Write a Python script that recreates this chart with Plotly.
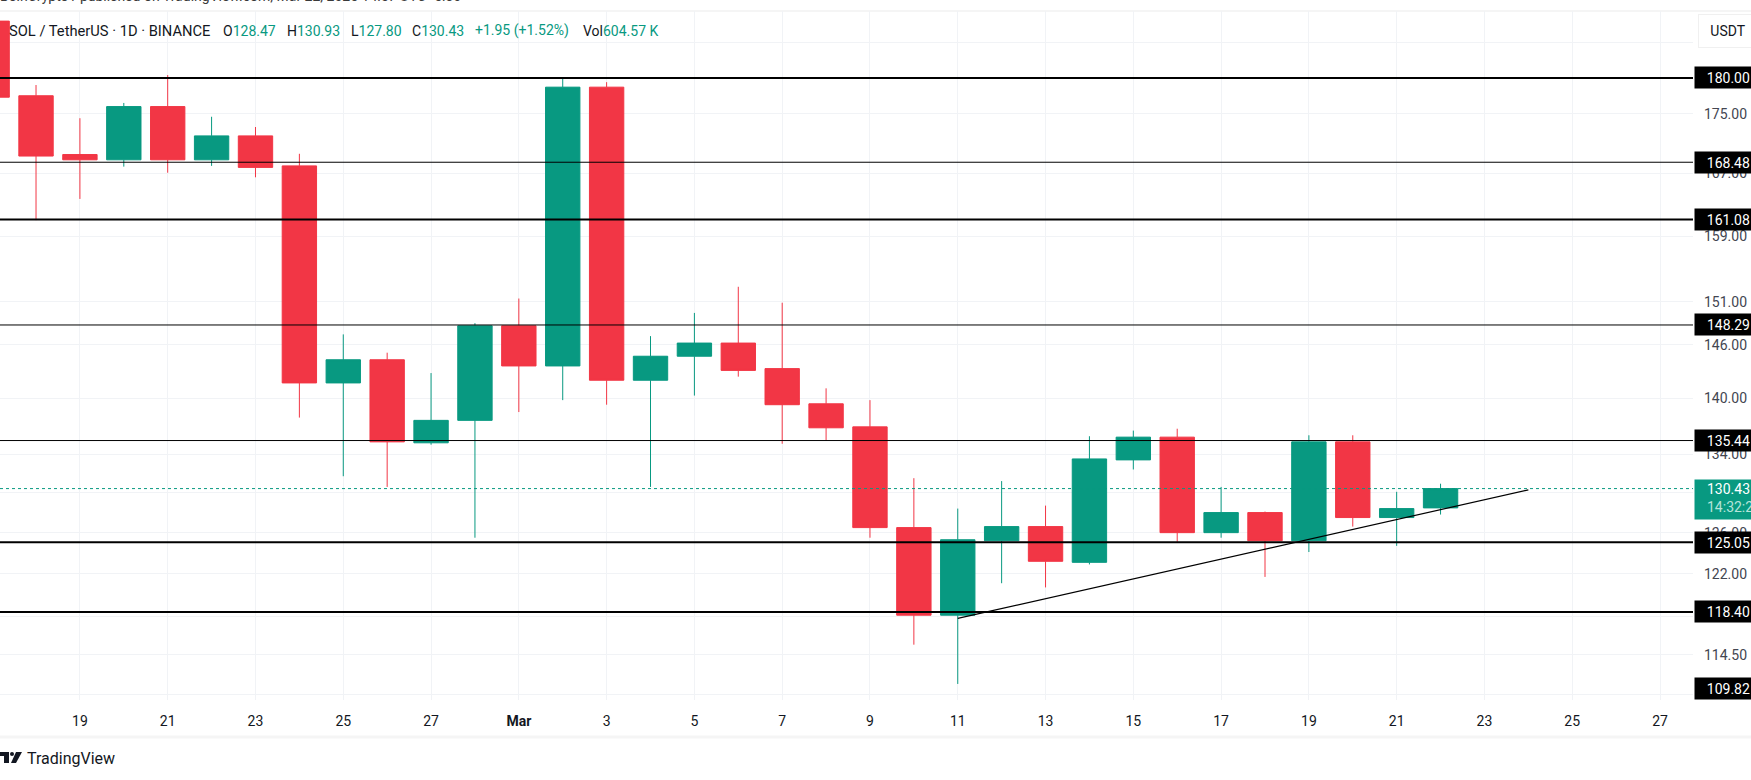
import numpy as np
import plotly.graph_objects as go

# daily SOL/USDT candles
dates = ["2025-02-17", "2025-02-18", "2025-02-19", "2025-02-20", "2025-02-21", "2025-02-22", "2025-02-23",
         "2025-02-24", "2025-02-25", "2025-02-26", "2025-02-27", "2025-02-28", "2025-03-01", "2025-03-02",
         "2025-03-03", "2025-03-04", "2025-03-05", "2025-03-06", "2025-03-07", "2025-03-08", "2025-03-09",
         "2025-03-10", "2025-03-11", "2025-03-12", "2025-03-13", "2025-03-14", "2025-03-15", "2025-03-16",
         "2025-03-17", "2025-03-18", "2025-03-19", "2025-03-20", "2025-03-21", "2025-03-22"]
opens = [188.2, 177.5, 169.5, 168.8, 176.0, 168.8, 172.0, 168.0, 141.7, 144.3, 135.2, 137.6, 148.2, 143.6,
         178.7, 142.0, 144.7, 146.2, 143.3, 139.4, 136.9, 126.5, 118.1, 125.2, 126.6, 123.1, 133.4, 135.8,
         126.0, 128.0, 125.2, 135.3, 127.5, 128.47]
highs = [188.2, 179.0, 174.4, 176.5, 180.4, 174.6, 173.2, 169.6, 147.2, 145.1, 142.8, 148.5, 151.4, 179.9,
         179.4, 147.0, 149.7, 152.8, 150.9, 141.1, 139.8, 131.5, 128.4, 131.2, 128.7, 135.9, 136.5, 136.7,
         130.6, 128.1, 136.0, 136.0, 130.1, 130.93]
lows = [177.3, 161.0, 163.7, 167.9, 167.1, 168.0, 166.5, 137.9, 131.7, 130.6, 135.0, 125.5, 138.5, 139.8,
        139.3, 130.6, 140.3, 142.4, 135.1, 135.4, 125.5, 115.4, 111.9, 121.1, 120.7, 122.9, 132.4, 125.1,
        125.5, 121.7, 124.1, 126.6, 124.7, 127.80]
closes = [177.3, 169.3, 168.8, 176.0, 168.8, 172.0, 167.8, 141.7, 144.3, 135.3, 137.6, 148.2, 143.6, 178.7,
          142.0, 144.7, 146.2, 143.1, 139.3, 136.8, 126.5, 118.1, 125.3, 126.6, 123.2, 133.5, 135.8, 126.0,
          128.0, 125.2, 135.3, 127.5, 128.4, 130.43]

levels = [180.00, 168.48, 161.08, 148.29, 135.44, 125.05, 118.40]
level_widths = [2, 1, 2, 1, 1, 2, 2]
last_price = 130.43
trend_x = ["2025-03-11", "2025-03-24"]
trend_y = [117.8, 130.3]

x_range = ["2025-02-17 04:18", "2025-03-27 18:02"]
y_range = [110.5, 189.7]

y_ticks = [185, 175, 167, 159, 151, 146, 140, 134, 130, 126, 122, 118, 114.5, 111]
x_ticks = ["2025-02-19", "2025-02-21", "2025-02-23", "2025-02-25", "2025-02-27", "2025-03-01", "2025-03-03",
           "2025-03-05", "2025-03-07", "2025-03-09", "2025-03-11", "2025-03-13", "2025-03-15", "2025-03-17",
           "2025-03-19", "2025-03-21", "2025-03-23", "2025-03-25", "2025-03-27"]
x_labels = ["19", "21", "23", "25", "27", "<b>Mar</b>", "3", "5", "7", "9", "11", "13", "15", "17", "19", "21",
            "23", "25", "27"]

GREEN = "#089981"
RED = "#F23645"
TEXT = "#131722"
GRID = "#f1f3f6"
FONT = "Roboto"

# plot area in page pixels
LEFT, RIGHT, TOP, BOTTOM = 0, 1693, 11, 700


def px(x):
    return (x - LEFT) / (RIGHT - LEFT)


def py(y):
    return (BOTTOM - y) / (BOTTOM - TOP)


data = []
data.append(go.Candlestick(
    x=dates, open=opens, high=highs, low=lows, close=closes,
    increasing=dict(line=dict(color=GREEN, width=1), fillcolor=GREEN),
    decreasing=dict(line=dict(color=RED, width=1), fillcolor=RED),
    whiskerwidth=0,
))
data.append(go.Scatter(x=x_range, y=[last_price, last_price], mode="lines",
                       line=dict(color=GREEN, width=1, dash="dot")))
for level, w in zip(levels, level_widths):
    data.append(go.Scatter(x=x_range, y=[level, level], mode="lines", line=dict(color="black", width=w)))
data.append(go.Scatter(x=trend_x, y=trend_y, mode="lines", line=dict(color="black", width=1.2)))

annotations = []

# header row
header_x = [8, 222, 286, 350, 411, 474, 582]
header_size = [14.7, 14, 14, 14, 14, 14, 14]
header_text = ["SOL / TetherUS · 1D · BINANCE",
               "O<span style='color:%s'>128.47</span>" % GREEN,
               "H<span style='color:%s'>130.93</span>" % GREEN,
               "L<span style='color:%s'>127.80</span>" % GREEN,
               "C<span style='color:%s'>130.43</span>" % GREEN,
               "<span style='color:%s'>+1.95 (+1.52%%)</span>" % GREEN,
               "Vol<span style='color:%s'>604.57 K</span>" % GREEN]
for hx, ht, hs in zip(header_x, header_text, header_size):
    annotations.append(dict(text=ht, xref="paper", yref="paper", x=px(hx), y=py(31), xanchor="left",
                            yanchor="middle", showarrow=False, font=dict(family=FONT, size=hs, color=TEXT),
                            borderpad=0))

# cut off by the top of the page in the original
annotations.append(dict(text="BeInCrypto1 published on TradingView.com, Mar 22, 2025 14:57 UTC+5:30",
                        xref="paper", yref="paper", x=px(-1), y=py(5), xanchor="left", yanchor="bottom",
                        showarrow=False, font=dict(family=FONT, size=14, color="#3a3a3a"), borderpad=0))

annotations.append(dict(text="TradingView", xref="paper", yref="paper", x=px(26), y=py(758), xanchor="left",
                        yanchor="middle", showarrow=False, font=dict(family=FONT, size=16, color=TEXT),
                        borderpad=0))

annotations.append(dict(text="USDT", xref="paper", yref="paper", x=px(1698), y=py(14), xanchor="left",
                        yanchor="top", showarrow=False, font=dict(family=FONT, size=14, color=TEXT),
                        bgcolor="white", bordercolor="#f0f0f0", borderwidth=1, width=58, height=32, borderpad=0))

# black price labels on the axis
for level in levels:
    annotations.append(dict(text="%.2f" % level, xref="paper", yref="y", x=px(1694), y=np.log10(level),
                            xanchor="left", yanchor="middle", showarrow=False, align="right",
                            font=dict(family=FONT, size=14, color="white"), bgcolor="black",
                            width=52, height=15, borderpad=3))
annotations.append(dict(text="109.82", xref="paper", yref="paper", x=px(1694), y=py(700), xanchor="left",
                        yanchor="bottom", showarrow=False, align="right",
                        font=dict(family=FONT, size=14, color="white"), bgcolor="black",
                        width=52, height=15, borderpad=3))

# last price box, text goes on top of it
annotations.append(dict(text=" ", xref="paper", yref="paper", x=px(1694), y=py(479), xanchor="left", yanchor="top",
                        showarrow=False, font=dict(family=FONT, size=14, color="white"), bgcolor=GREEN,
                        width=58, height=39, borderpad=0))
annotations.append(dict(text="130.43", xref="paper", yref="paper", x=px(1706), y=py(489), xanchor="left",
                        yanchor="middle", showarrow=False, font=dict(family=FONT, size=14, color="white"),
                        borderpad=0))
annotations.append(dict(text="14:32:2", xref="paper", yref="paper", x=px(1706), y=py(507), xanchor="left",
                        yanchor="middle", showarrow=False, font=dict(family=FONT, size=14, color="#b5e4da"),
                        borderpad=0))

shapes = [
    dict(type="line", xref="paper", yref="paper", x0=px(0), x1=px(1751), y0=py(11), y1=py(11),
         line=dict(color="#f5f5f5", width=2), layer="below"),
    dict(type="line", xref="paper", yref="paper", x0=px(0), x1=px(1751), y0=py(737), y1=py(737),
         line=dict(color="#f5f5f5", width=3), layer="below"),
    # TradingView logo
    dict(type="path", xref="paper", yref="paper", fillcolor=TEXT, line=dict(width=0),
         path="M %f %f L %f %f L %f %f L %f %f L %f %f L %f %f Z" % (
             px(0), py(752), px(9), py(752), px(9), py(763), px(4), py(763), px(4), py(756), px(0), py(756))),
    dict(type="circle", xref="paper", yref="paper", fillcolor=TEXT, line=dict(width=0),
         x0=px(10), x1=px(14), y0=py(752), y1=py(756)),
    dict(type="path", xref="paper", yref="paper", fillcolor=TEXT, line=dict(width=0),
         path="M %f %f L %f %f L %f %f L %f %f Z" % (
             px(16), py(752), px(22), py(752), px(16), py(763), px(11), py(763))),
]

layout = dict(
    width=1751, height=780,
    margin=dict(l=LEFT, r=1751 - RIGHT, t=TOP, b=780 - BOTTOM, pad=0),
    paper_bgcolor="white", plot_bgcolor="white",
    showlegend=False,
    boxgap=0.1, boxgroupgap=0.13,
    xaxis=dict(type="date", range=x_range, rangeslider=dict(visible=False), tickmode="array", tickvals=x_ticks,
               ticktext=x_labels, showgrid=True, gridcolor=GRID, gridwidth=1, ticks="", zeroline=False,
               showline=False, tickfont=dict(family=FONT, size=14, color=TEXT), ticklabelstandoff=11),
    yaxis=dict(type="log", side="right", range=[np.log10(y_range[0]), np.log10(y_range[1])], tickmode="array",
               tickvals=y_ticks, ticktext=["%.2f" % t for t in y_ticks], showgrid=True, gridcolor=GRID, gridwidth=1,
               ticks="", zeroline=False, showline=False, tickfont=dict(family=FONT, size=14, color="#434651"),
               ticklabelstandoff=10),
    annotations=annotations,
    shapes=shapes,
)

fig = go.Figure(data=data, layout=layout)
fig.write_html("out.html", config={"displayModeBar": False}, post_script="document.body.style.margin='0';")
